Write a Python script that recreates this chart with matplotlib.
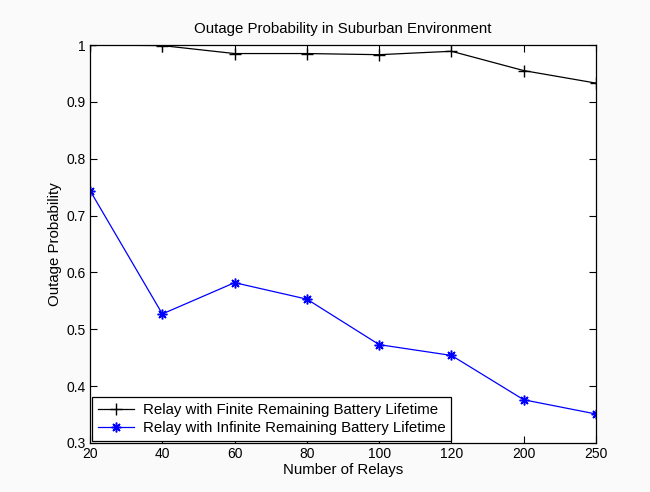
import matplotlib
matplotlib.use('Agg')
from matplotlib import pyplot as plt

relays = ['20', '40', '60', '80', '100', '120', '200', '250']
finite = [1.0, 0.999, 0.985, 0.985, 0.983, 0.989, 0.955, 0.933]
infinite = [0.744, 0.527, 0.582, 0.553, 0.473, 0.454, 0.376, 0.351]

plt.rcParams['font.family'] = ['Liberation Sans', 'DejaVu Sans']
plt.rcParams['font.size'] = 10.5

fig = plt.figure(figsize=(6.5, 4.92), dpi=100, facecolor='#fafafa')
ax = fig.add_axes([0.1385, 0.0996, 0.7785, 0.8089])
ax.set_facecolor('white')

x = list(range(len(relays)))
# MATLAB style markers: '+' and an eight-armed asterisk
ax.plot(x, finite, '-', color='black', marker='+', markersize=9, linewidth=0.9,
        label='Relay with Finite Remaining Battery Lifetime')
ax.plot(x, infinite, '-', color='blue', marker=(8, 2, 0), markersize=7,
        markeredgewidth=1.1, linewidth=0.9,
        label='Relay with Infinite Remaining Battery Lifetime')

ax.set_xlim(0, len(relays) - 1)
ax.set_ylim(0.3, 1.0)
ax.set_xticks(x)
ax.set_xticklabels(relays)
ax.set_yticks([0.3, 0.4, 0.5, 0.6, 0.7, 0.8, 0.9, 1.0])
ax.set_yticklabels(['0.3', '0.4', '0.5', '0.6', '0.7', '0.8', '0.9', '1'])
ax.tick_params(direction='in', top=True, right=True, length=5, labelsize=10, pad=3)
for s in ax.spines.values():
    s.set_linewidth(0.9)

ax.set_title('Outage Probability in Suburban Environment', fontsize=10.8, pad=9)
ax.set_xlabel('Number of Relays', fontsize=10.8, labelpad=1)
ax.set_ylabel('Outage Probability', fontsize=10.8, labelpad=3)

leg = ax.legend(loc='lower left', fontsize=10.8, fancybox=False, framealpha=1,
                edgecolor='black', borderaxespad=0.1, handlelength=2.4,
                borderpad=0.4, labelspacing=0.3, handletextpad=0.6)
leg.get_frame().set_linewidth(0.9)

fig.savefig('out.png', dpi=100, facecolor=fig.get_facecolor())
